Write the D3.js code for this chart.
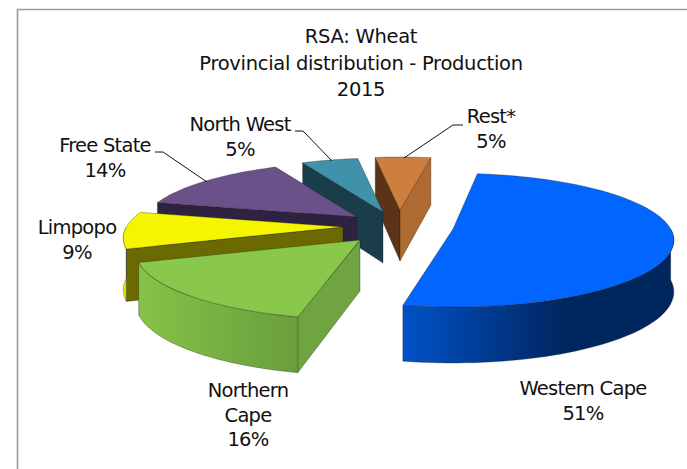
<!DOCTYPE html>
<html>
<head>
<meta charset="utf-8">
<script src="https://cdn.jsdelivr.net/npm/d3@7"></script>
<style>
    html, body { margin: 0; padding: 0; background: #fff; overflow: hidden; }
    text { font-family: "DejaVu Sans", sans-serif; fill: #111; }
</style>
</head>
<body>
<div id="chart"></div>
<script>
const provinces = ["Western Cape", "Northern Cape", "Limpopo", "Free State", "North West", "Rest*"];
const shares = [51, 16, 9, 14, 5, 5];
const titleLines = ["RSA: Wheat", "Provincial distribution - Production", "2015"];

// colours per slice, same order as provinces
const topColors = ["#0066ff", "#8ac84c", "#f5f500", "#6b5189", "#4092ab", "#cf7f3d"];
const wallLight = ["#0052c8", "#86c248", "#f5f500", "#3a2a50", "#2a6070", "#8a5526"];
const wallDark = ["#00265e", "#6a9e3d", "#d8d800", "#2e2140", "#1b3d4a", "#6a3f1c"];
const wallStop = [0.6, 1, 1, 1, 1, 1];
const startCut = ["#0052c8", "#70a440", "#6b6a00", "#2f2140", "#1a3d4a", "#5b3417"];
const endCut = ["#0052c8", "#70a440", "#6b6a00", "#2f2140", "#1a3d4a", "#ae6a30"];

// how each wedge sits in the exploded pie: px from centre, size, small turn in degrees
const explode = [[78, 2], [-15, 13], [-32, 0], [-18, -10], [8, -15], [25, -17]];
const wedgeScale = [0.985, 1, 0.98, 0.965, 0.95, 0.93];
const wedgeTurn = [-2.5, 0, 0, 0, 0, 0];
const paintOrder = [5, 4, 3, 2, 1, 0];

const w = 687;
const h = 469;
const cx = 375;
const cy = 227;
const rx = 221;
const ry = 66;
const depth = 51;
const tilt = 0.17;
const toRad = Math.PI / 180;

const svg = d3.select("#chart").append("svg")
    .attr("width", w)
    .attr("height", h)
    .style("display", "block");

// frame
svg.append("path")
    .attr("d", `M17.5,${h}V9.5H${w}`)
    .attr("fill", "none")
    .attr("stroke", "#9a9a9a")
    .attr("stroke-width", 1.6);

const pie = d3.pie().sort(null)
    .startAngle(10 * toRad)
    .endAngle(370 * toRad);
const arcs = pie(shares).map((d, i) => ({
    startAngle: d.startAngle + wedgeTurn[i] * toRad,
    endAngle: d.endAngle + wedgeTurn[i] * toRad
}));

const line = d3.line();
const defs = svg.append("defs");

const project = (i, a, r, z) => {
    const u = wedgeScale[i] * r * Math.sin(a);
    const v = -wedgeScale[i] * r * Math.cos(a);
    const p = 1 / (1 - tilt * v);
    return [
        cx + explode[i][0] + rx * u * p,
        cy + explode[i][1] + ry * v * p + depth * z * Math.sqrt(p)
    ];
};

const rim = (i, a0, a1, z) => {
    const n = Math.max(2, Math.ceil((a1 - a0) / (2 * toRad)));
    return d3.range(n + 1).map(k => project(i, a0 + (a1 - a0) * k / n, 1, z));
};

const drawFace = (pts, fill) => svg.append("path")
    .attr("d", line(pts) + "Z")
    .attr("fill", fill)
    .attr("stroke", "#1a1a1a")
    .attr("stroke-opacity", 0.45)
    .attr("stroke-width", 0.7)
    .attr("stroke-linejoin", "round");

const drawCut = (i, a, fill) => {
    const apexTop = project(i, 0, 0, 0);
    const apexBottom = project(i, 0, 0, 1);
    drawFace([apexTop, project(i, a, 1, 0), project(i, a, 1, 1), apexBottom], fill);
};

paintOrder.forEach(i => {
    const d = arcs[i];

    // side cuts, only the ones turned to the viewer
    if (Math.cos(d.startAngle - Math.PI / 2) < 0) drawCut(i, d.startAngle, startCut[i]);
    if (Math.cos(d.endAngle + Math.PI / 2) < 0) drawCut(i, d.endAngle, endCut[i]);

    // outer wall, front half of the rim only
    const a0 = Math.max(d.startAngle, 90 * toRad);
    const a1 = Math.min(d.endAngle, 270 * toRad);
    if (a1 > a0) {
        const front = rim(i, a0, a1, 0);
        const back = rim(i, a0, a1, 1).reverse();
        const xs = front.map(p => p[0]);
        const grad = defs.append("linearGradient")
            .attr("id", "wall" + i)
            .attr("gradientUnits", "userSpaceOnUse")
            .attr("x1", d3.min(xs))
            .attr("x2", d3.max(xs))
            .attr("y1", 0)
            .attr("y2", 0);
        grad.append("stop").attr("offset", 0).attr("stop-color", wallLight[i]);
        grad.append("stop").attr("offset", wallStop[i]).attr("stop-color", wallDark[i]);
        drawFace(front.concat(back), `url(#wall${i})`);
    }

    // top
    drawFace([project(i, 0, 0, 0)].concat(rim(i, d.startAngle, d.endAngle, 0)), topColors[i]);
});

// title
const titleY = [43, 70, 96];
svg.selectAll(".title")
    .data(titleLines)
    .enter()
    .append("text")
    .attr("class", "title")
    .attr("x", 361)
    .attr("y", (d, i) => titleY[i])
    .attr("text-anchor", "middle")
    .attr("font-size", 19.5)
    .attr("letter-spacing", -0.3)
    .text(d => d);

// labels
const labelX = [583, 248, 77, 105, 240, 491];
const labelY = [395, 397, 234, 152, 131, 123];
const wrapped = [false, true, false, false, false, false];
const lineGap = 24.5;

provinces.forEach((name, i) => {
    const rows = (wrapped[i] ? name.split(" ") : [name]).concat(shares[i] + "%");
    svg.selectAll(".label" + i)
        .data(rows)
        .enter()
        .append("text")
        .attr("class", "label" + i)
        .attr("x", labelX[i])
        .attr("y", (d, k) => labelY[i] + k * lineGap)
        .attr("text-anchor", "middle")
        .attr("font-size", 19.5)
        .attr("letter-spacing", -0.75)
        .text(d => d);
});

// leader lines
const leaders = [
    [[155, 152], [163, 152], [207, 182]],
    [[295, 131], [303, 131], [332, 161]],
    [[463, 125], [453, 125], [404, 158]]
];
svg.selectAll(".leader")
    .data(leaders)
    .enter()
    .append("path")
    .attr("class", "leader")
    .attr("d", d => line(d))
    .attr("fill", "none")
    .attr("stroke", "#111")
    .attr("stroke-width", 1);
</script>
</body>
</html>
